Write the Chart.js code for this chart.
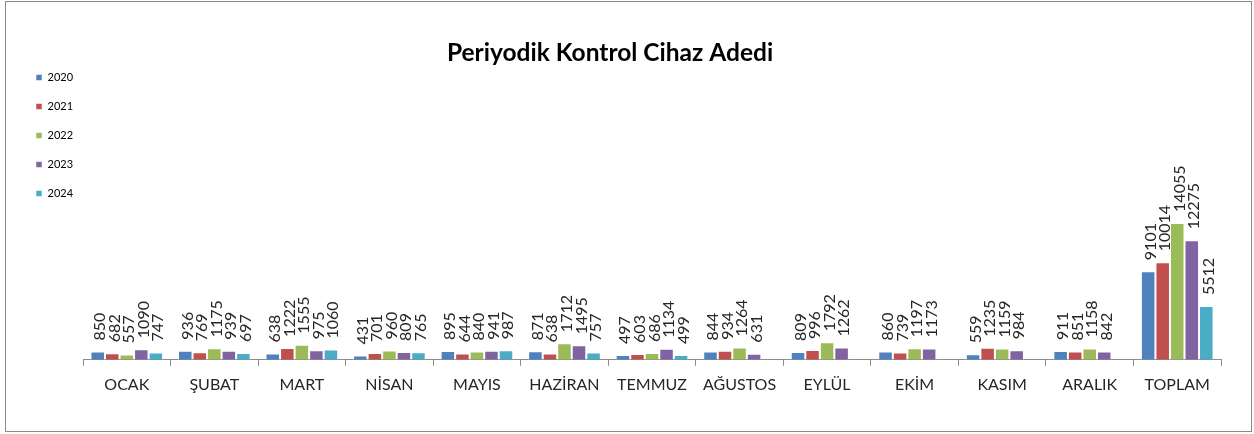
<!DOCTYPE html>
<html>
<head>
<meta charset="utf-8">
<script src="https://cdn.jsdelivr.net/npm/chart.js@4"></script>
<style>
  html,body{margin:0;padding:0;background:#fff;}
  #wrap{position:relative;width:1254px;height:434px;}
</style>
</head>
<body>
<div id="wrap"><canvas id="chart"></canvas></div>
<script>
// categories + series
const months = ['OCAK','ŞUBAT','MART','NİSAN','MAYIS','HAZİRAN','TEMMUZ','AĞUSTOS','EYLÜL','EKİM','KASIM','ARALIK','TOPLAM'];
const years  = ['2020','2021','2022','2023','2024'];
const v2020 = [850, 936, 638, 431, 895, 871, 497, 844, 809, 860, 559, 911, 9101];
const v2021 = [682, 769, 1222, 701, 644, 638, 603, 934, 996, 739, 1235, 851, 10014];
const v2022 = [557, 1175, 1555, 960, 840, 1712, 686, 1264, 1792, 1197, 1159, 1158, 14055];
const v2023 = [1090, 939, 975, 809, 941, 1495, 1134, 631, 1262, 1173, 984, 842, 12275];
const v2024 = [747, 697, 1060, 765, 987, 757, 499, null, null, null, null, null, 5512];
const TITLE = 'Periyodik Kontrol Cihaz Adedi';

const C = {y20:'#4f81bd', y21:'#c0504d', y22:'#9bbb59', y23:'#8064a2', y24:'#4bacc6',
           axis:'#8c8c8c', ink:'#262626', frame:'#8c8c8c'};
const FONT = 'Lato, "Open Sans", sans-serif';

const series = [v2020, v2021, v2022, v2023, v2024];
const cols = [C.y20, C.y21, C.y22, C.y23, C.y24];

// white background + thin grey frame round the whole chart
const frame = {
  id:'frame',
  beforeDraw(chart){
    const c = chart.ctx;
    c.save();
    c.fillStyle = '#fff'; c.fillRect(0,0,chart.width,chart.height);
    c.strokeStyle = C.frame; c.lineWidth = 1;
    c.strokeRect(5.5, 1.5, 1246, 430);
    c.restore();
  }
};

// title sits a bit left of the plot centre, like the original
const titleAt = {
  id:'titleAt',
  afterDraw(chart){
    const c = chart.ctx;
    c.save();
    c.font = 'bold 24.5px ' + FONT;
    c.fillStyle = '#000';
    c.textAlign = 'center'; c.textBaseline = 'alphabetic';
    c.fillText(TITLE, 610, 61);
    c.restore();
  }
};

// vertical value labels above every bar
const barLabels = {
  id:'barLabels',
  afterDatasetsDraw(chart){
    const c = chart.ctx;
    c.save();
    c.font = '16px ' + FONT;
    c.fillStyle = C.ink;
    c.textAlign = 'left'; c.textBaseline = 'alphabetic';
    chart.data.datasets.forEach((ds, di) => {
      chart.getDatasetMeta(di).data.forEach((bar, i) => {
        const v = ds.data[i];
        if (v == null) return;
        c.save();
        c.translate(bar.x + 7.5, bar.y - 11);
        c.rotate(-Math.PI/2);
        c.fillText(String(v), 0, 0);
        c.restore();
      });
    });
    c.restore();
  }
};

new Chart(document.getElementById('chart'), {
  type:'bar',
  data:{
    labels: months,
    datasets: years.map((y, i) => ({
      label: y,
      data: series[i],
      backgroundColor: cols[i],
      borderColor: 'rgba(255,255,255,0.55)',
      borderWidth: 1,
      categoryPercentage: 0.83,
      barPercentage: 1.0
    }))
  },
  options:{
    responsive:true, maintainAspectRatio:false, animation:false,
    layout:{padding:{left:18, right:33, top:54, bottom:31}},
    scales:{
      y:{display:false, min:0, max:31400},
      x:{
        grid:{display:true, offset:true, drawOnChartArea:false, drawTicks:true, tickLength:6, color:C.axis},
        border:{display:true, color:C.axis, width:1},
        ticks:{color:C.ink, padding:9, font:{family:FONT, size:16}, maxRotation:0, autoSkip:false}
      }
    },
    plugins:{
      legend:{
        position:'left', align:'start',
        labels:{boxWidth:6, boxHeight:6, padding:18, color:'#000', font:{family:FONT, size:11}}
      },
      title:{display:false},
      tooltip:{enabled:false}
    }
  },
  plugins:[frame, barLabels, titleAt]
});
</script>
</body>
</html>
